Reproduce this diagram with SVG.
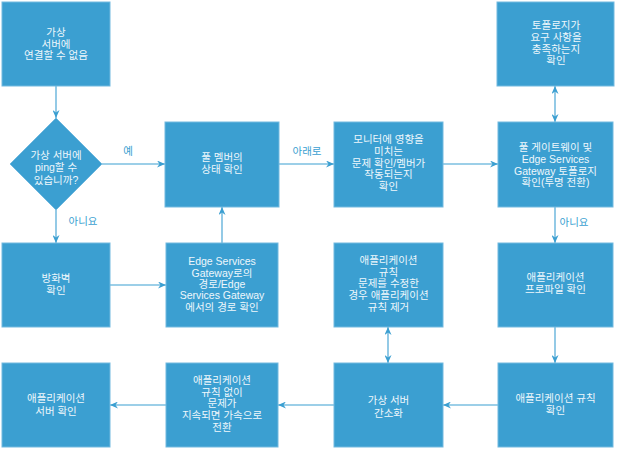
<svg xmlns="http://www.w3.org/2000/svg" width="617" height="453" viewBox="0 0 617 453">
<style>
.box{fill:#3b9fd1;stroke:#72b9df;stroke-width:1}
.t{font-family:"Liberation Sans","Noto Sans CJK KR",sans-serif;font-size:10.5px;fill:#eef7fc;text-anchor:middle}
.lbl{font-family:"Liberation Sans","Noto Sans CJK KR",sans-serif;font-size:10.5px;fill:#3b9fd1;text-anchor:middle}
.c{stroke:#3b9fd1;stroke-width:1.1;fill:none}
</style>
<defs>
<marker id="a" viewBox="0 0 8 7" refX="8" refY="3.5" markerWidth="8" markerHeight="7" orient="auto-start-reverse" markerUnits="userSpaceOnUse">
<path d="M0,0 L8,3.5 L0,7 L2.5,3.5 z" fill="#3b9fd1"/>
</marker>
</defs>
<rect width="617" height="453" fill="#ffffff"/>
<g id="connectors">
<line class="c" x1="56" y1="86" x2="56" y2="118" marker-end="url(#a)"/>
<line class="c" x1="102" y1="164" x2="165" y2="164" marker-end="url(#a)"/>
<line class="c" x1="56" y1="210" x2="56" y2="243" marker-end="url(#a)"/>
<line class="c" x1="110" y1="285" x2="166" y2="285" marker-end="url(#a)"/>
<line class="c" x1="222" y1="243" x2="222" y2="207" marker-end="url(#a)"/>
<line class="c" x1="279" y1="164" x2="334" y2="164" marker-end="url(#a)"/>
<line class="c" x1="443" y1="164" x2="498" y2="164" marker-end="url(#a)"/>
<line class="c" x1="555" y1="86" x2="555" y2="122" marker-start="url(#a)" marker-end="url(#a)"/>
<line class="c" x1="555" y1="207" x2="555" y2="243" marker-end="url(#a)"/>
<line class="c" x1="555" y1="327" x2="555" y2="363" marker-end="url(#a)"/>
<line class="c" x1="498" y1="405" x2="443" y2="405" marker-end="url(#a)"/>
<line class="c" x1="388" y1="327" x2="388" y2="363" marker-start="url(#a)" marker-end="url(#a)"/>
<line class="c" x1="334" y1="405" x2="278" y2="405" marker-end="url(#a)"/>
<line class="c" x1="166" y1="405" x2="110" y2="405" marker-end="url(#a)"/>
<text class="lbl" x="128" y="155">예</text>
<text class="lbl" x="83" y="225">아니요</text>
<text class="lbl" x="307" y="155">아래로</text>
<text class="lbl" x="574" y="226">아니요</text>
</g>
<g id="n1">
<rect class="box" x="2" y="2" width="108" height="84"/>
<text class="t" x="56" y="36">가상</text>
<text class="t" x="56" y="47.5">서버에</text>
<text class="t" x="56" y="59">연결할 수 없음</text>
</g>
<g id="n2">
<polygon class="box" points="56,118 102,164 56,210 10,164"/>
<text class="t" x="56" y="159">가상 서버에</text>
<text class="t" x="56" y="171">ping할 수</text>
<text class="t" x="56" y="183.5">있습니까?</text>
</g>
<g id="n3">
<rect class="box" x="165" y="122" width="114" height="85"/>
<text class="t" x="222" y="161">풀 멤버의</text>
<text class="t" x="222" y="173">상태 확인</text>
</g>
<g id="n4">
<rect class="box" x="334" y="122" width="109" height="85"/>
<text class="t" x="388.5" y="142.5">모니터에 영향을</text>
<text class="t" x="388.5" y="154.5">미치는</text>
<text class="t" x="388.5" y="166.5">문제 확인/멤버가</text>
<text class="t" x="388.5" y="178">작동되는지</text>
<text class="t" x="388.5" y="189.5">확인</text>
</g>
<g id="n5">
<rect class="box" x="498" y="122" width="115" height="85"/>
<text class="t" x="555.5" y="151">풀 게이트웨이 및</text>
<text class="t" x="555.5" y="163">Edge Services</text>
<text class="t" x="555.5" y="174.5">Gateway 토폴로지</text>
<text class="t" x="555.5" y="186">확인(투명 전환)</text>
</g>
<g id="n6">
<rect class="box" x="497" y="2" width="117" height="84"/>
<text class="t" x="556" y="29">토폴로지가</text>
<text class="t" x="556" y="41">요구 사항을</text>
<text class="t" x="556" y="52.5">충족하는지</text>
<text class="t" x="556" y="64">확인</text>
</g>
<g id="n7">
<rect class="box" x="2" y="243" width="108" height="84"/>
<text class="t" x="56" y="282">방화벽</text>
<text class="t" x="56" y="294">확인</text>
</g>
<g id="n8">
<rect class="box" x="166" y="243" width="112" height="84"/>
<text class="t" x="222" y="265">Edge Services</text>
<text class="t" x="222" y="277">Gateway로의</text>
<text class="t" x="222" y="288">경로/Edge</text>
<text class="t" x="222" y="299">Services Gateway</text>
<text class="t" x="222" y="311">에서의 경로 확인</text>
</g>
<g id="n9">
<rect class="box" x="334" y="243" width="109" height="84"/>
<text class="t" x="388.5" y="264">애플리케이션</text>
<text class="t" x="388.5" y="276">규칙</text>
<text class="t" x="388.5" y="287">문제를 수정한</text>
<text class="t" x="388.5" y="299">경우 애플리케이션</text>
<text class="t" x="388.5" y="311">규칙 제거</text>
</g>
<g id="n10">
<rect class="box" x="498" y="243" width="115" height="84"/>
<text class="t" x="555.5" y="281">애플리케이션</text>
<text class="t" x="555.5" y="293">프로파일 확인</text>
</g>
<g id="n11">
<rect class="box" x="498" y="363" width="115" height="84"/>
<text class="t" x="555.5" y="402">애플리케이션 규칙</text>
<text class="t" x="555.5" y="414">확인</text>
</g>
<g id="n12">
<rect class="box" x="334" y="363" width="109" height="84"/>
<text class="t" x="388.5" y="404">가상 서버</text>
<text class="t" x="388.5" y="416.5">간소화</text>
</g>
<g id="n13">
<rect class="box" x="166" y="363" width="112" height="84"/>
<text class="t" x="222" y="384">애플리케이션</text>
<text class="t" x="222" y="396">규칙 없이</text>
<text class="t" x="222" y="407">문제가</text>
<text class="t" x="222" y="419">지속되면 가속으로</text>
<text class="t" x="222" y="431">전환</text>
</g>
<g id="n14">
<rect class="box" x="2" y="363" width="108" height="84"/>
<text class="t" x="56" y="402">애플리케이션</text>
<text class="t" x="56" y="415">서버 확인</text>
</g>
</svg>
